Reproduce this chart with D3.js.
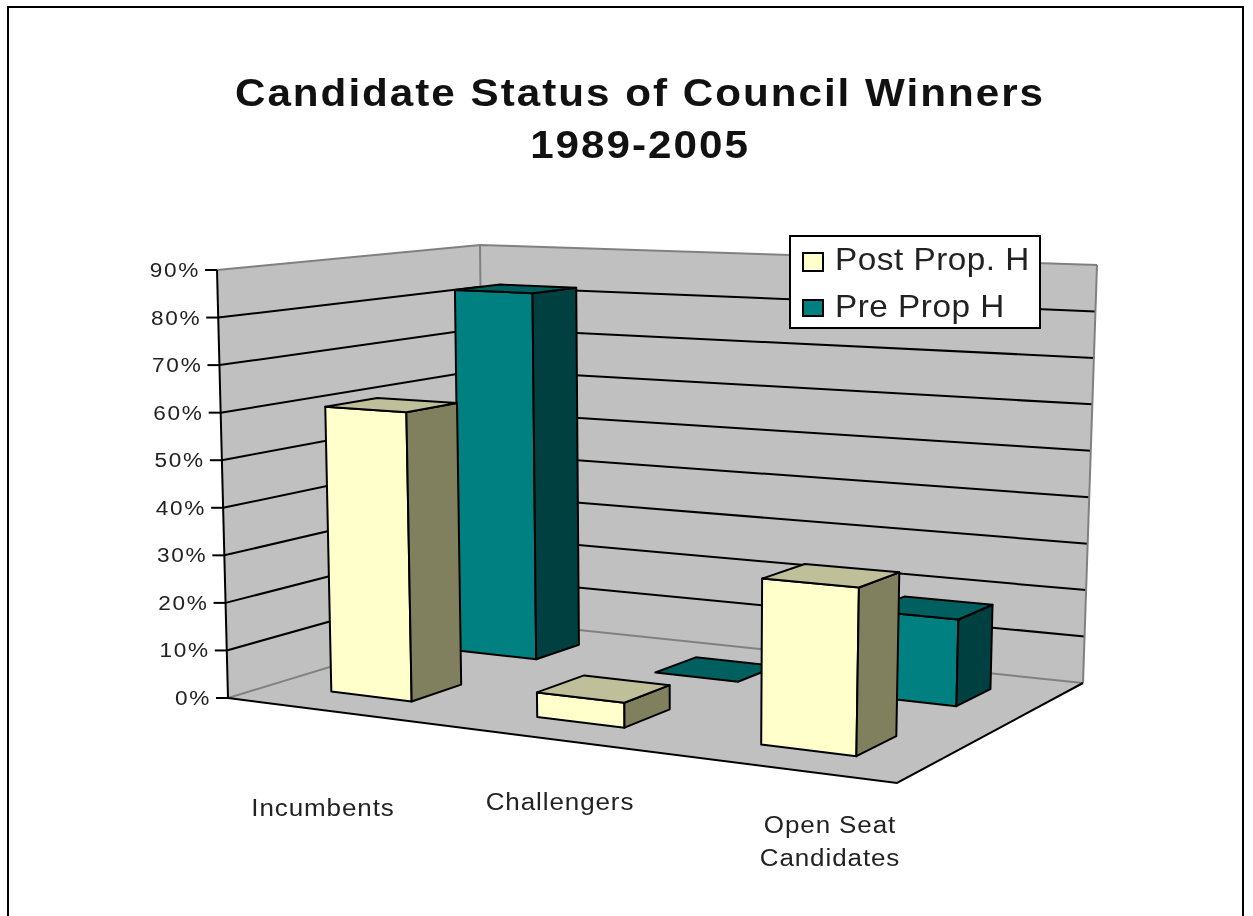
<!DOCTYPE html>
<html><head><meta charset="utf-8">
<script src="https://cdnjs.cloudflare.com/ajax/libs/d3/7.8.5/d3.min.js"></script>
<style>html,body{margin:0;padding:0;background:#fff}svg{display:block;filter:blur(0.7px)}text{font-family:"Liberation Sans",Arial,sans-serif}</style>
</head><body><svg id="c" width="1253" height="916"></svg>
<script>
const categories = ["Incumbents","Challengers","Open Seat Candidates"];
const seriesNames = ["Post Prop. H","Pre Prop H"];
const postValues = [60.5,5,32.5];
const preValues = [82,0,18];
const valueTicks = [0,10,20,30,40,50,60,70,80,90];
const titleLines = ["Candidate Status of Council Winners","1989-2005"];

const floorQuad = [[228,698],[897,783],[1083,683],[484,620]];
const ceilQuad  = [[217,270],[907,298],[1097,265],[480,245]];
const svg = d3.select("#c");

function homography(q){
  const [[x0,y0],[x1,y1],[x2,y2],[x3,y3]] = q;
  const sx=x0-x1+x2-x3, sy=y0-y1+y2-y3, dx1=x1-x2, dx2=x3-x2, dy1=y1-y2, dy2=y3-y2;
  const den=dx1*dy2-dx2*dy1, g=(sx*dy2-dx2*sy)/den, h=(dx1*sy-sx*dy1)/den;
  const a=x1-x0+g*x1, b=x3-x0+h*x3, d=y1-y0+g*y1, e=y3-y0+h*y3;
  return (u,w)=>{const k=g*u+h*w+1; return [(a*u+b*w+x0)/k,(d*u+e*w+y0)/k];};
}
const floorH = homography(floorQuad), ceilH = homography(ceilQuad);
const vScale = d3.scaleLinear().domain([0,90]).range([0,1]);
const uScale = d3.scaleBand().domain(categories).range([0,1]).paddingInner(.6).paddingOuter(.3);
const wScale = d3.scaleBand().domain(seriesNames).range([0,1]).paddingInner(.62).paddingOuter(.31);
const P = (u,w,val)=>{const f=floorH(u,w),t=ceilH(u,w),k=vScale(val);return [f[0]+(t[0]-f[0])*k,f[1]+(t[1]-f[1])*k];};
const line = d3.line();
const poly = pts=>line(pts)+"Z";
const stretch = (sel,ls,k)=>sel.style("letter-spacing",ls+"px").each(function(){
  this.setAttribute("lengthAdjust","spacingAndGlyphs");
  this.setAttribute("textLength",this.getComputedTextLength()*k);
});

svg.append("rect").attr("x",8).attr("y",7).attr("width",1235).attr("height",930).attr("fill","#fff").attr("stroke","#000").attr("stroke-width",2);

// walls and floor
const wallFill="#c0c0c0", edge="#808080";
svg.append("path").attr("d",poly([P(0,0,0),P(0,1,0),P(0,1,90),P(0,0,90)])).attr("fill",wallFill);
svg.append("path").attr("d",poly([P(0,1,0),P(1,1,0),P(1,1,90),P(0,1,90)])).attr("fill",wallFill);
svg.append("path").attr("d",poly([P(0,0,0),P(1,0,0),P(1,1,0),P(0,1,0)])).attr("fill",wallFill);

const wallLine = v=>[P(0,0,v),P(0,1,v),P(1,1,v)];
svg.append("g").selectAll("path").data(valueTicks).join("path")
  .attr("d",v=>line(wallLine(v))).attr("fill","none")
  .attr("stroke",v=>(v===0||v===90)?edge:"#000").attr("stroke-width",2);
svg.append("path").attr("d",line([P(0,1,0),P(0,1,90)])).attr("stroke",edge).attr("stroke-width",2).attr("fill","none");
svg.append("path").attr("d",line([P(1,1,0),P(1,1,90)])).attr("stroke",edge).attr("stroke-width",2).attr("fill","none");
svg.append("path").attr("d",line([P(0,0,0),P(0,0,90)])).attr("stroke","#000").attr("stroke-width",2).attr("fill","none");
svg.append("path").attr("d",line([P(0,0,0),P(1,0,0),P(1,1,0)])).attr("stroke","#000").attr("stroke-width",2).attr("fill","none");

// ticks
const tickG = svg.append("g").selectAll("g").data(valueTicks).join("g");
tickG.append("line").attr("x1",v=>P(0,0,v)[0]-12).attr("x2",v=>P(0,0,v)[0])
  .attr("y1",v=>P(0,0,v)[1]).attr("y2",v=>P(0,0,v)[1]).attr("stroke","#000").attr("stroke-width",2);
tickG.append("text").attr("x",v=>P(0,0,v)[0]-17).attr("y",v=>P(0,0,v)[1]+7).attr("text-anchor","end")
  .attr("font-size",20).attr("fill","#222").text(v=>v+"%").call(stretch,1.5,1.13);

// bars
const colors = {
  "Post Prop. H":{front:"#ffffcc",side:"#80805f",top:"#bfbf99"},
  "Pre Prop H":{front:"#008080",side:"#004040",top:"#006060"}
};
const rows = [["Pre Prop H",preValues],["Post Prop. H",postValues]];
rows.forEach(([name,vals])=>{
  const c=colors[name];
  const w0=wScale(name), w1=w0+wScale.bandwidth();
  const g=svg.append("g");
  categories.forEach((cat,i)=>{
    const u0=uScale(cat), u1=u0+uScale.bandwidth(), v=vals[i];
    const st=s=>s.attr("stroke","#000").attr("stroke-width",2).attr("stroke-linejoin","round");
    if(v>0){
      g.append("path").attr("d",poly([P(u0,w0,0),P(u1,w0,0),P(u1,w0,v),P(u0,w0,v)])).attr("fill",c.front).call(st);
      g.append("path").attr("d",poly([P(u1,w0,0),P(u1,w1,0),P(u1,w1,v),P(u1,w0,v)])).attr("fill",c.side).call(st);
    }
    g.append("path").attr("d",poly([P(u0,w0,v),P(u1,w0,v),P(u1,w1,v),P(u0,w1,v)])).attr("fill",c.top).call(st);
  });
});

// title
svg.append("g").selectAll("text").data(titleLines).join("text")
  .attr("x",640).attr("y",(d,i)=>106+i*52).attr("text-anchor","middle")
  .attr("font-size",38).attr("font-weight","bold").attr("fill","#111").text(d=>d).call(stretch,1.8,1.11);

// category labels
const catLabels=[{l:["Incumbents"],x:323,y:816},{l:["Challengers"],x:560,y:810},{l:["Open Seat","Candidates"],x:830,y:833}];
catLabels.forEach(o=>o.l.forEach((t,i)=>svg.append("text").attr("x",o.x).attr("y",o.y+i*33)
  .attr("text-anchor","middle").attr("font-size",23).attr("fill","#222").text(t).call(stretch,.8,1.13)));

// legend
const lg=svg.append("g");
lg.append("rect").attr("x",790).attr("y",236).attr("width",250).attr("height",92).attr("fill","#fff").attr("stroke","#000").attr("stroke-width",2);
seriesNames.forEach((n,i)=>{
  lg.append("rect").attr("x",803).attr("y",253+i*47).attr("width",20).attr("height",i?16:18).attr("fill",colors[n].front).attr("stroke","#000").attr("stroke-width",2);
  lg.append("text").attr("x",835).attr("y",270+i*47).attr("font-size",32).attr("fill","#222").text(n).call(stretch,.5,1.04);
});
</script></body></html>
